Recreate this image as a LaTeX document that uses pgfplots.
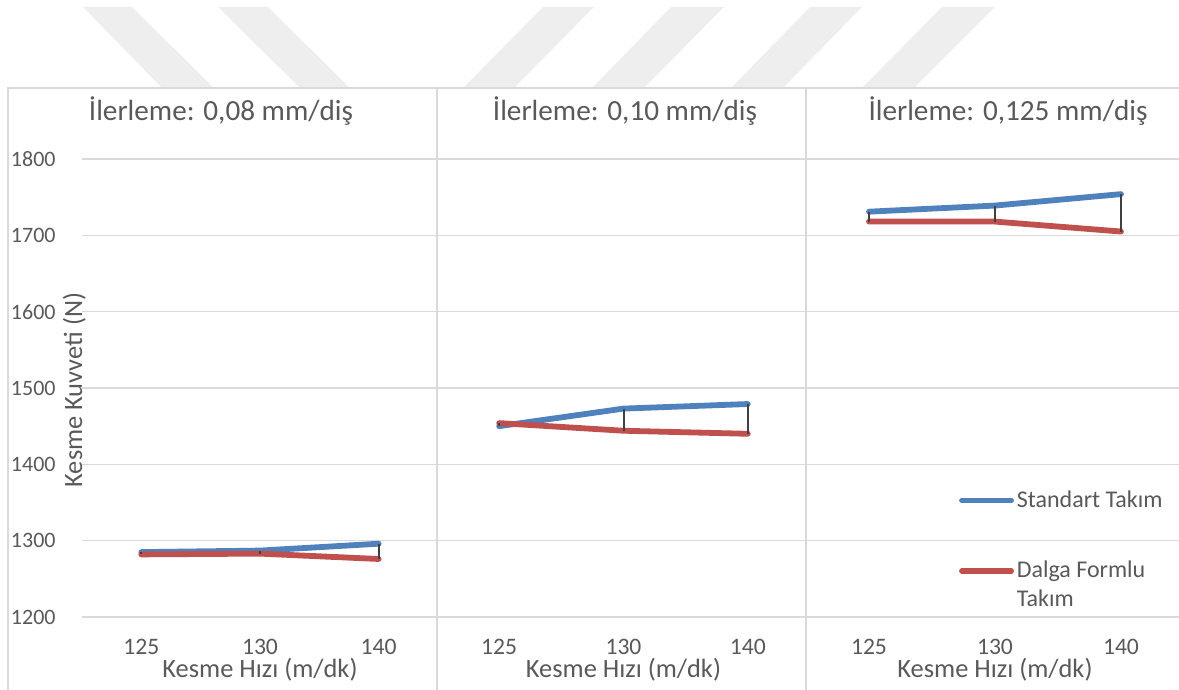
\documentclass[border=0pt]{standalone}
\usepackage{fontspec}
\setmainfont{Carlito}
\usepackage{pgfplots}
\pgfplotsset{compat=1.18}
\definecolor{txt}{HTML}{595959}
\definecolor{gridc}{HTML}{D9D9D9}
\definecolor{sblue}{HTML}{4F81BD}
\definecolor{sred}{HTML}{C0504D}
\definecolor{hl}{HTML}{404040}
\definecolor{wm}{HTML}{EEEEEE}

\pgfplotsset{
  panel/.style={
    scale only axis, anchor=south west, height=229pt,
    xmin=-0.5, xmax=2.5, ymin=1200, ymax=1800,
    xtick={0,1,2}, xticklabels={125,130,140},
    ytick={1200,1300,...,1800},
    ymajorgrids, grid style={gridc, line width=0.75pt},
    axis line style={draw=none}, major tick length=0pt,
    yticklabel style={font=\fontsize{11}{13}\selectfont, text=txt},
    xticklabel style={font=\fontsize{11.8}{13}\selectfont, text=txt,
      anchor=base, inner sep=0pt, yshift=-19pt},
    xlabel={Kesme Hızı (m/dk)},
    xlabel style={at={(axis description cs:0.5,0)}, anchor=base, yshift=-30.5pt,
      inner sep=0pt, font=\fontsize{13.2}{15}\selectfont, text=txt},
    clip=false,
    /pgf/number format/1000 sep={},
    /pgf/number format/assume math mode=true,
    unbounded coords=jump,
  },
  sstd/.style={sblue, line width=2.9pt, line cap=round, line join=round},
  sdal/.style={sred, line width=2.9pt, line cap=round, line join=round},
  shl/.style={hl, line width=1pt, forget plot},
  legtop/.style={legend image code/.code={\draw[##1, line width=2.75pt, line cap=round] (0pt,3.35pt) -- (24.7pt,3.35pt);}},
  legtwo/.style={legend image code/.code={\draw[##1, line width=2.75pt, line cap=round] (0pt,17.75pt) -- (24.7pt,17.75pt);}},
}

\begin{document}
\begin{tikzpicture}
\useasboundingbox (0pt,0pt) rectangle (589.5pt,345pt);
% faint watermark stripes
\fill[wm] (41.5pt,341.5pt) -- (66pt,341.5pt) -- (107pt,301pt) -- (81pt,301pt) -- cycle;
\fill[wm] (109pt,341.5pt) -- (134pt,341.5pt) -- (175pt,301pt) -- (150pt,301pt) -- cycle;
\fill[wm] (271.5pt,341.5pt) -- (297pt,341.5pt) -- (257pt,301pt) -- (231.5pt,301pt) -- cycle;
\fill[wm] (335.5pt,341.5pt) -- (362pt,341.5pt) -- (322pt,301pt) -- (296pt,301pt) -- cycle;
\fill[wm] (405pt,341.5pt) -- (431pt,341.5pt) -- (391.5pt,301pt) -- (365.5pt,301pt) -- cycle;
\fill[wm] (471pt,341.5pt) -- (497.5pt,341.5pt) -- (457pt,301pt) -- (431pt,301pt) -- cycle;
% frame
\draw[gridc, line width=0.75pt] (4pt,0pt) -- (4pt,301pt) -- (589.5pt,301pt);
\draw[gridc, line width=0.75pt] (218.5pt,0pt) -- (218.5pt,301pt);
\draw[gridc, line width=0.75pt] (403pt,0pt) -- (403pt,301pt);

% Panel 1
\begin{axis}[panel, at={(41pt,36.5pt)}, width=178pt,
  yticklabel style={anchor=east, inner sep=0pt, xshift=-13pt},
  ylabel={Kesme Kuvveti (N)},
  ylabel style={at={(axis description cs:0,0.4956)}, anchor=base,
    font=\fontsize{13.2}{15}\selectfont, text=txt}]
\addplot[sstd] coordinates {(0,1285) (1,1287) (2,1296)};
\addplot[sdal] coordinates {(0,1282) (1,1283) (2,1276)};
\addplot[shl] coordinates {(0,1285) (0,1282) (0,nan) (1,1287) (1,1283) (1,nan) (2,1296) (2,1276)};
\end{axis}

% Panel 2
\begin{axis}[panel, at={(218.5pt,36.5pt)}, width=186.5pt, yticklabels={}]
\addplot[sstd] coordinates {(0,1450) (1,1473) (2,1479)};
\addplot[sdal] coordinates {(0,1454) (1,1444) (2,1440)};
\addplot[shl] coordinates {(0,1454) (0,1450) (0,nan) (1,1473) (1,1444) (1,nan) (2,1479) (2,1440)};
\end{axis}

% Panel 3
\begin{axis}[panel, at={(403pt,36.5pt)}, width=189pt, yticklabels={},
  legend style={at={(rel axis cs:0.404,0.2773)}, anchor=north west,
    draw=none, fill=none, inner sep=0pt, row sep=25.5pt, column sep=1.4pt,
    font=\fontsize{12}{14.4}\selectfont, text=txt,
    cells={anchor=base west}, nodes={inner sep=0pt, align=left}}]
\addplot[sstd, legtop] coordinates {(0,1731) (1,1739) (2,1754)};
\addlegendentry{Standart Takım}
\addplot[sdal, legtwo] coordinates {(0,1718) (1,1718) (2,1705)};
\addlegendentry{Dalga Formlu\\Takım}
\addplot[shl] coordinates {(0,1731) (0,1718) (0,nan) (1,1739) (1,1718) (1,nan) (2,1754) (2,1705)};
\end{axis}

% panel titles
\node[anchor=base, font=\fontsize{14.6}{17}\selectfont, text=txt, inner sep=0pt] at (110.5pt,284.5pt) {İlerleme: 0,08 mm/diş};
\node[anchor=base, font=\fontsize{14.6}{17}\selectfont, text=txt, inner sep=0pt] at (312.5pt,284.5pt) {İlerleme: 0,10 mm/diş};
\node[anchor=base, font=\fontsize{14.6}{17}\selectfont, text=txt, inner sep=0pt] at (504pt,284.5pt) {İlerleme: 0,125 mm/diş};
\end{tikzpicture}
\end{document}
